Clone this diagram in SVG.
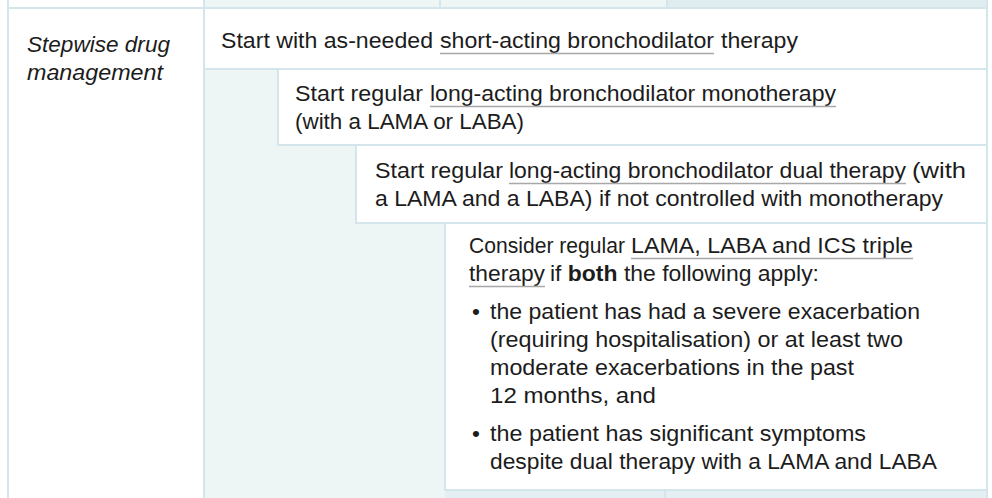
<svg xmlns="http://www.w3.org/2000/svg" width="992" height="498" viewBox="0 0 992 498">
<style>
  .t { font-family: "Liberation Sans", Arial, sans-serif; font-size: 22.5px; fill: #1c1c1c; }
  .it { font-style: italic; }
  .b { font-weight: bold; }
  .box { fill: #ffffff; stroke: #d5e5ec; stroke-width: 2; }
  .ln { stroke: #d5e5ec; stroke-width: 2; fill: none; }
  .ul { stroke: #a8a8a8; stroke-width: 1.6; }
</style>
<rect x="0" y="0" width="992" height="498" fill="#ffffff"/>
<g id="background">
  <rect x="204" y="0" width="784" height="498" fill="#edf5f5"/>
  <rect x="667" y="0" width="321" height="8" fill="#dfedf1"/>
  <rect x="445" y="490" width="543" height="8" fill="#e4eff3"/>
  <line class="ln" x1="8" y1="0" x2="8" y2="498"/>
  <line class="ln" x1="204" y1="0" x2="204" y2="498"/>
  <line class="ln" x1="987" y1="0" x2="987" y2="498"/>
  <line class="ln" x1="8" y1="8" x2="988" y2="8"/>
  <line class="ln" x1="440" y1="0" x2="440" y2="8"/>
  <line class="ln" x1="667" y1="0" x2="667" y2="8"/>
  <line class="ln" x1="665" y1="490" x2="665" y2="498"/>
</g>
<g id="label">
  <text class="t it" x="27" y="52" textLength="143" lengthAdjust="spacingAndGlyphs">Stepwise drug</text>
  <text class="t it" x="27" y="80" textLength="136" lengthAdjust="spacingAndGlyphs">management</text>
</g>
<g id="step1">
  <rect class="box" x="204" y="8" width="783" height="61"/>
  <text class="t" x="221" y="48" textLength="212" lengthAdjust="spacingAndGlyphs">Start with as-needed</text>
  <text class="t" x="440" y="48" textLength="274" lengthAdjust="spacingAndGlyphs">short-acting bronchodilator</text>
  <text class="t" x="721" y="48" textLength="77" lengthAdjust="spacingAndGlyphs">therapy</text>
  <line class="ul" x1="440" y1="53.5" x2="714" y2="53.5"/>
</g>
<g id="step2">
  <rect class="box" x="278" y="69" width="709" height="76"/>
  <text class="t" x="295" y="101" textLength="128" lengthAdjust="spacingAndGlyphs">Start regular</text>
  <text class="t" x="430" y="101" textLength="406" lengthAdjust="spacingAndGlyphs">long-acting bronchodilator monotherapy</text>
  <text class="t" x="295" y="129" textLength="229" lengthAdjust="spacingAndGlyphs">(with a LAMA or LABA)</text>
  <line class="ul" x1="430" y1="106.5" x2="836" y2="106.5"/>
</g>
<g id="step3">
  <rect class="box" x="356" y="145" width="631" height="78"/>
  <text class="t" x="375" y="178" textLength="128" lengthAdjust="spacingAndGlyphs">Start regular</text>
  <text class="t" x="509" y="178" textLength="397" lengthAdjust="spacingAndGlyphs">long-acting bronchodilator dual therapy</text>
  <text class="t" x="912" y="178" textLength="54" lengthAdjust="spacingAndGlyphs">(with</text>
  <text class="t" x="375" y="206" textLength="568" lengthAdjust="spacingAndGlyphs">a LAMA and a LABA) if not controlled with monotherapy</text>
  <line class="ul" x1="509" y1="183.5" x2="906" y2="183.5"/>
</g>
<g id="step4">
  <rect class="box" x="445" y="223" width="542" height="267"/>
  <text class="t" x="469" y="253" textLength="156" lengthAdjust="spacingAndGlyphs">Consider regular</text>
  <text class="t" x="631" y="253" textLength="282" lengthAdjust="spacingAndGlyphs">LAMA, LABA and ICS triple</text>
  <line class="ul" x1="631" y1="258.5" x2="913" y2="258.5"/>
  <text class="t" x="469" y="281" textLength="76" lengthAdjust="spacingAndGlyphs">therapy</text>
  <line class="ul" x1="469" y1="286.5" x2="545" y2="286.5"/>
  <text class="t" x="550" y="281" textLength="269" lengthAdjust="spacingAndGlyphs">if <tspan class="b">both</tspan> the following apply:</text>
  <text class="t" x="472" y="319">•</text>
  <text class="t" x="490" y="319" textLength="430" lengthAdjust="spacingAndGlyphs">the patient has had a severe exacerbation</text>
  <text class="t" x="490" y="347" textLength="413" lengthAdjust="spacingAndGlyphs">(requiring hospitalisation) or at least two</text>
  <text class="t" x="490" y="375" textLength="364" lengthAdjust="spacingAndGlyphs">moderate exacerbations in the past</text>
  <text class="t" x="490" y="403" textLength="166" lengthAdjust="spacingAndGlyphs">12 months, and</text>
  <text class="t" x="472" y="441">•</text>
  <text class="t" x="490" y="441" textLength="376" lengthAdjust="spacingAndGlyphs">the patient has significant symptoms</text>
  <text class="t" x="490" y="469" textLength="447" lengthAdjust="spacingAndGlyphs">despite dual therapy with a LAMA and LABA</text>
</g>
<g id="connectors"></g>
</svg>
